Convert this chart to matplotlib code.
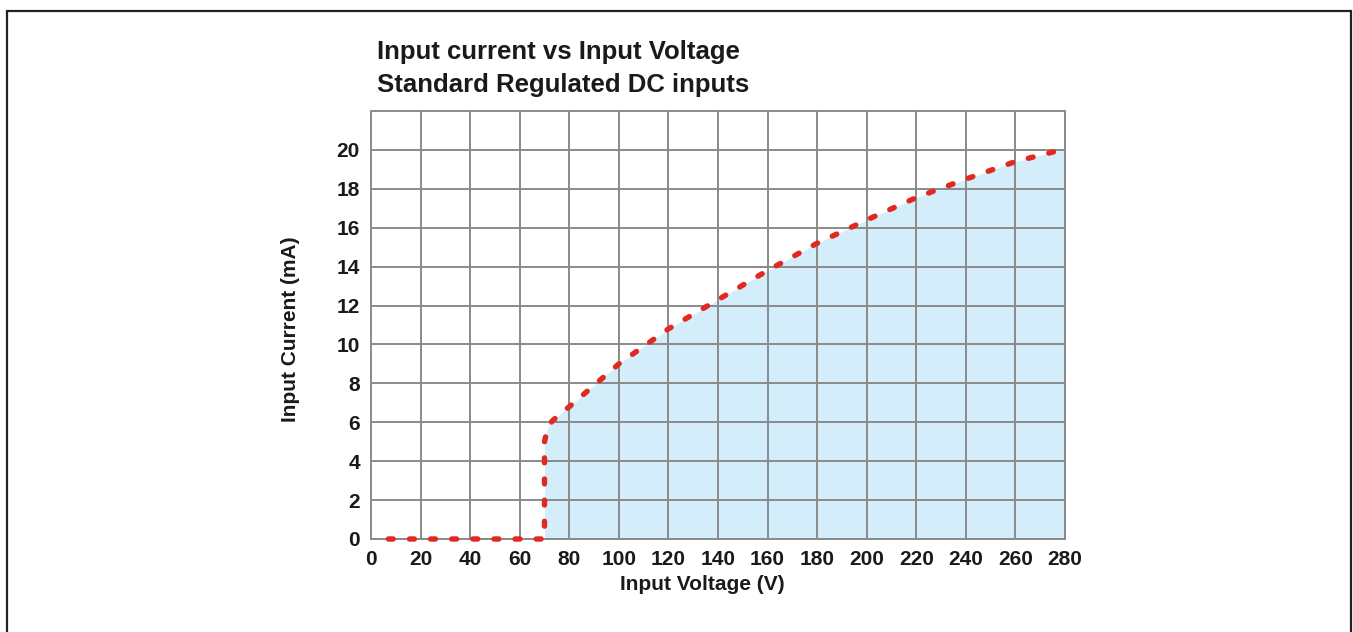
import matplotlib
matplotlib.use('Agg')
import matplotlib.pyplot as plt
from matplotlib.patches import Rectangle
import numpy as np

plt.rcParams['font.family'] = ['Liberation Sans', 'DejaVu Sans']

# Data
voltage = [7, 70, 70, 71, 73, 76, 80, 90, 100, 120, 140, 160, 180, 200, 220, 240, 260, 280]
current = [0, 0, 5.0, 5.6, 6.05, 6.4, 6.8, 7.9, 9.0, 10.8, 12.3, 13.8, 15.2, 16.4, 17.55, 18.5, 19.4, 20.05]
x_ticks = list(range(0, 281, 20))
y_ticks = list(range(0, 21, 2))
title_lines = ['Input current vs Input Voltage', 'Standard Regulated DC inputs']

W, H = 1353, 632
fig = plt.figure(figsize=(W / 100, H / 100), dpi=100)
ax = fig.add_axes([371 / W, 1 - 539 / H, (1065 - 371) / W, (539 - 111) / H])

v = np.array(voltage)
c = np.array(current)
mask = v >= 70
ax.fill_between(v[mask][1:], 0, c[mask][1:], color='#d3edfa', lw=0, zorder=1)

ax.plot(voltage, current, color='#e1291f', lw=3.9, dashes=(0.9, 3.0),
        dash_capstyle='round', solid_capstyle='round', zorder=4, clip_on=False)

ax.set_xlim(0, 280)
ax.set_ylim(0, 22)
ax.set_xticks(x_ticks)
ax.set_yticks(y_ticks)
ax.grid(True, color='#8a8a8a', lw=1.4, zorder=2)
ax.set_axisbelow(False)
for sp in ax.spines.values():
    sp.set_color('#8a8a8a')
    sp.set_linewidth(1.4)
    sp.set_zorder(2)
ax.tick_params(length=0, labelsize=15, colors='#1a1a1a')
ax.tick_params(axis='x', pad=8)
ax.tick_params(axis='y', pad=8)
for lab in ax.get_xticklabels() + ax.get_yticklabels():
    lab.set_fontweight('bold')

ax.set_xlabel('Input Voltage (V)', fontsize=15, fontweight='bold', labelpad=4, color='#1a1a1a')
ax.set_ylabel('Input Current (mA)', fontsize=15, fontweight='bold', labelpad=26, color='#1a1a1a')
ax.xaxis.label.set_x(0.478)
ax.yaxis.label.set_y(0.49)

fig.text(377 / W, 1 - 52 / H, title_lines[0], fontsize=18.5, fontweight='bold',
         va='center', ha='left', color='#1a1a1a')
fig.text(377 / W, 1 - 85 / H, title_lines[1], fontsize=18.5, fontweight='bold',
         va='center', ha='left', color='#1a1a1a')

# outer frame (open at the bottom edge)
fig.patches.append(Rectangle((7 / W, -0.1), (1351 - 7) / W, 1.1 - 11 / H,
                             transform=fig.transFigure, fill=False,
                             edgecolor='#222222', lw=1.6))

fig.savefig('out.png', dpi=100)
